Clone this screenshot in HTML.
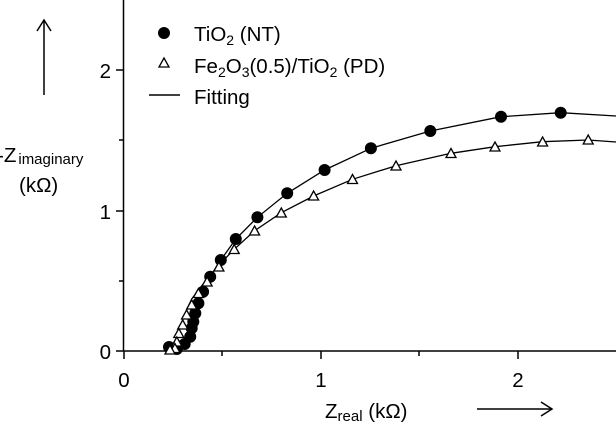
<!DOCTYPE html>
<html><head><meta charset="utf-8"><style>
html,body{margin:0;padding:0;background:#fff;}
svg{display:block;font-family:"Liberation Sans",sans-serif;}
</style></head><body>
<svg width="616" height="425" viewBox="0 0 616 425" xmlns="http://www.w3.org/2000/svg">
<g stroke="#000" stroke-width="1.5" fill="none">
<line x1="123.5" y1="0" x2="123.5" y2="351"/>
<line x1="123.5" y1="351" x2="616" y2="351"/>
<line x1="116" y1="70" x2="123.5" y2="70"/>
<line x1="116" y1="211" x2="123.5" y2="211"/>
<line x1="116" y1="351" x2="123.5" y2="351"/>
<line x1="119" y1="140" x2="123.5" y2="140"/>
<line x1="119" y1="281" x2="123.5" y2="281"/>
<line x1="124" y1="351" x2="124" y2="359"/>
<line x1="321" y1="351" x2="321" y2="359"/>
<line x1="518" y1="351" x2="518" y2="359"/>
<line x1="222" y1="351" x2="222" y2="356"/>
<line x1="419" y1="351" x2="419" y2="356"/>
<line x1="44" y1="20" x2="44" y2="95"/>
<polyline points="37,31 44,20 51,31"/>
<line x1="477" y1="409" x2="552" y2="409"/>
<polyline points="541,402 552,409 541,416"/>
<line x1="149" y1="95" x2="180" y2="95"/>
<polyline stroke-width="1.3" points="169,348 176.8,351 184.7,346.7 190.2,336.7 191.7,328.3 193.3,321.7 195.3,313.3 198.4,303.3 203.1,291.7 210.2,276.7 220.8,260 235.8,239 257.4,217.3 287.2,193.3 324.6,170 370.9,148.3 430.3,131 501,116.7 560.7,112.7 616,116"/>
<polyline stroke-width="1.3" points="169,350 174.9,346 176.8,339 178.8,331 182.7,320 186.6,310 191.7,299 198.4,290 207.1,279 218.9,265 234.2,249.3 254.6,230.7 281.3,212.7 313.6,196 352.5,179.3 396,165.7 451,153.3 495,146.7 542.6,141.7 588.2,140 616,142"/>
</g>
<g fill="#000">
<circle cx="164" cy="33" r="6"/>
<circle cx="560.7" cy="112.7" r="6"/><circle cx="501" cy="116.7" r="6"/><circle cx="430.3" cy="131" r="6"/><circle cx="370.9" cy="148.3" r="6"/><circle cx="324.6" cy="170" r="6"/><circle cx="287.2" cy="193.3" r="6"/><circle cx="257.4" cy="217.3" r="6"/><circle cx="235.8" cy="239" r="6"/><circle cx="220.8" cy="260" r="6"/><circle cx="210.2" cy="276.7" r="6"/><circle cx="203.1" cy="291.7" r="6"/><circle cx="198.4" cy="303.3" r="6"/><circle cx="195.3" cy="313.3" r="6"/><circle cx="193.3" cy="321.7" r="6"/><circle cx="191.7" cy="328.3" r="6"/><circle cx="190.2" cy="336.7" r="6"/><circle cx="184.7" cy="344" r="6"/><circle cx="176.8" cy="349" r="6"/><circle cx="169" cy="347" r="6"/>
</g>
<g fill="#fff" stroke="#000" stroke-width="1.3">
<path d="M164,58 l5,9 h-10 z"/>
<path d="M588.2,135 l5,9 h-10z"/><path d="M542.6,137 l5,9 h-10z"/><path d="M495,142 l5,9 h-10z"/><path d="M451,148.5 l5,9 h-10z"/><path d="M396,161 l5,9 h-10z"/><path d="M352.5,174.5 l5,9 h-10z"/><path d="M313.6,191 l5,9 h-10z"/><path d="M281.3,208 l5,9 h-10z"/><path d="M254.6,226 l5,9 h-10z"/><path d="M234.2,244.5 l5,9 h-10z"/><path d="M218.9,262 l5,9 h-10z"/><path d="M207.1,277 l5,9 h-10z"/><path d="M198.4,288.5 l5,9 h-10z"/><path d="M191.7,300 l5,9 h-10z"/><path d="M186.6,310 l5,9 h-10z"/><path d="M182.7,320 l5,9 h-10z"/><path d="M178.8,328.5 l5,9 h-10z"/><path d="M176.8,337 l5,9 h-10z"/><path d="M174.9,343.5 l5,9 h-10z"/><path d="M170,345 l5,9 h-10z"/>
</g>
<g font-size="20.5" fill="#000">
<text x="194" y="41">TiO<tspan font-size="14" dy="4">2</tspan><tspan dy="-4"> (NT)</tspan></text>
<text x="194" y="73">Fe<tspan font-size="14" dy="4">2</tspan><tspan dy="-4">O</tspan><tspan font-size="14" dy="4">3</tspan><tspan dy="-4">(0.5)/TiO</tspan><tspan font-size="14" dy="4">2</tspan><tspan dy="-4"> (PD)</tspan></text>
<text x="194" y="104">Fitting</text>
<text x="111" y="78" text-anchor="end">2</text>
<text x="111" y="219" text-anchor="end">1</text>
<text x="111" y="359" text-anchor="end">0</text>
<text x="124" y="387" text-anchor="middle">0</text>
<text x="321" y="387" text-anchor="middle">1</text>
<text x="518" y="387" text-anchor="middle">2</text>
<text x="-3" y="162">-Z<tspan font-size="15" dx="2" dy="2">imaginary</tspan></text>
<text x="19" y="192">(kΩ)</text>
<text x="325" y="418">Z<tspan font-size="15" dy="3">real</tspan><tspan dy="-3"> (kΩ)</tspan></text>
</g>
</svg>
</body></html>
